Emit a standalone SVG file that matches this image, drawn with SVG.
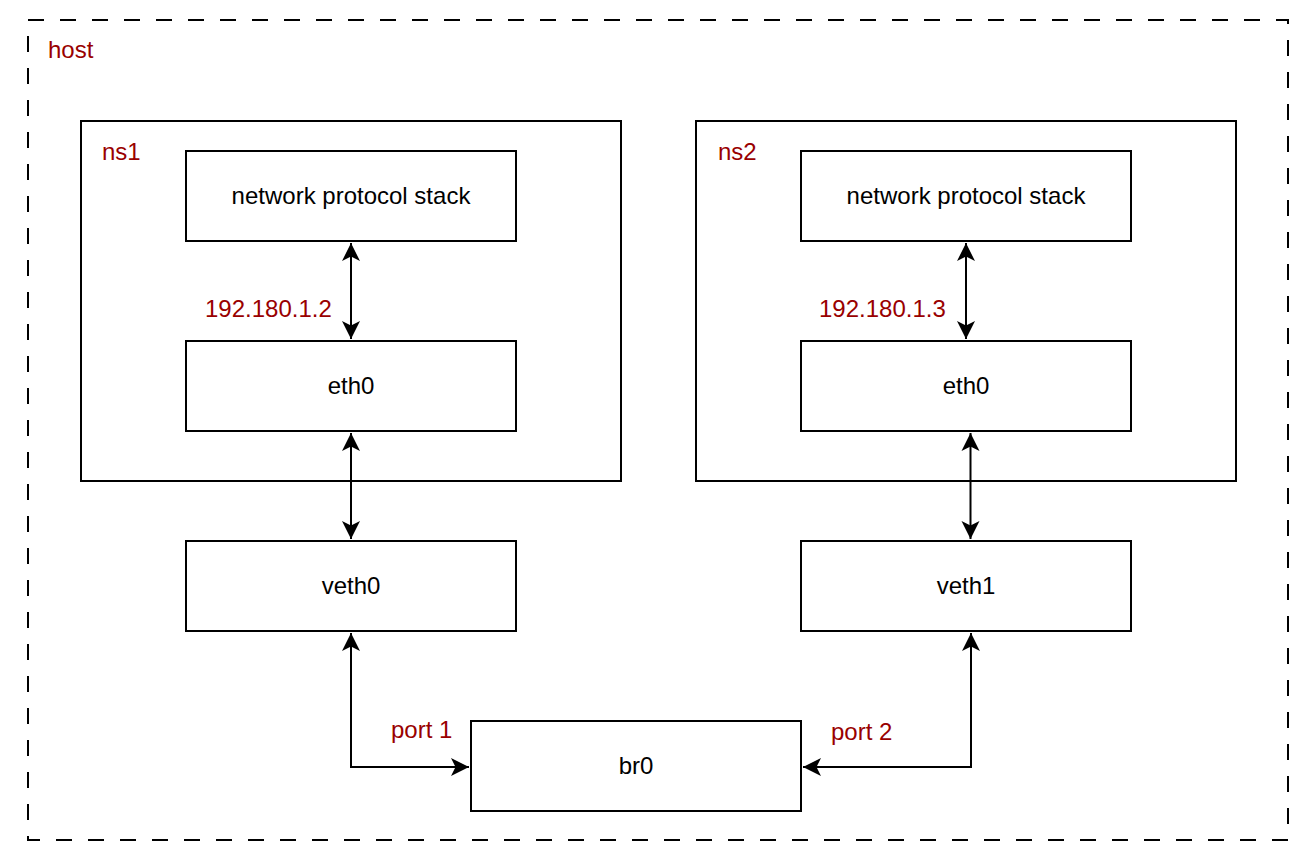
<svg xmlns="http://www.w3.org/2000/svg" width="1310" height="862" viewBox="0 0 1310 862">
  <style>
    .box { fill: #ffffff; stroke: #000000; stroke-width: 2; }
    .host { fill: none; stroke: #000000; stroke-width: 2; stroke-dasharray: 16 16; }
    .lbl { font-family: "Liberation Sans", Arial, Helvetica, sans-serif; font-size: 24px; fill: #000000; }
    .ctr { text-anchor: middle; }
    .red { fill: #990000; }
    .edge { fill: none; stroke: #000000; stroke-width: 2; }
  </style>
  <defs>
    <marker id="arr" markerUnits="userSpaceOnUse" markerWidth="20" markerHeight="20" viewBox="0 0 20 20" refX="18" refY="10" orient="auto-start-reverse">
      <path d="M18,10 L0,1 L4.5,10 L0,19 Z" fill="#000000"/>
    </marker>
  </defs>
  <rect width="1310" height="862" fill="#ffffff"/>

  <g id="host">
    <rect class="host" x="28" y="20" width="1260" height="820"/>
    <text class="lbl red" x="48" y="58">host</text>
  </g>

  <g id="ns1">
    <rect class="box" x="81" y="121" width="540" height="360"/>
    <text class="lbl red" x="102" y="160">ns1</text>
  </g>
  <g id="ns2">
    <rect class="box" x="696" y="121" width="540" height="360"/>
    <text class="lbl red" x="718" y="160">ns2</text>
  </g>

  <g id="stack1">
    <rect class="box" x="186" y="151" width="330" height="90"/>
    <text class="lbl ctr" x="351" y="204">network protocol stack</text>
  </g>
  <g id="eth0-ns1">
    <rect class="box" x="186" y="341" width="330" height="90"/>
    <text class="lbl ctr" x="351" y="394">eth0</text>
  </g>
  <g id="veth0">
    <rect class="box" x="186" y="541" width="330" height="90"/>
    <text class="lbl ctr" x="351" y="594">veth0</text>
  </g>

  <g id="stack2">
    <rect class="box" x="801" y="151" width="330" height="90"/>
    <text class="lbl ctr" x="966" y="204">network protocol stack</text>
  </g>
  <g id="eth0-ns2">
    <rect class="box" x="801" y="341" width="330" height="90"/>
    <text class="lbl ctr" x="966" y="394">eth0</text>
  </g>
  <g id="veth1">
    <rect class="box" x="801" y="541" width="330" height="90"/>
    <text class="lbl ctr" x="966" y="594">veth1</text>
  </g>

  <g id="br0">
    <rect class="box" x="471" y="721" width="330" height="90"/>
    <text class="lbl ctr" x="636" y="774">br0</text>
  </g>

  <g id="connectors">
    <path class="edge" d="M351,243 L351,339" marker-start="url(#arr)" marker-end="url(#arr)"/>
    <path class="edge" d="M351,433 L351,539" marker-start="url(#arr)" marker-end="url(#arr)"/>
    <path class="edge" d="M351,633 L351,767 L469,767" marker-start="url(#arr)" marker-end="url(#arr)"/>
    <path class="edge" d="M966,243 L966,339" marker-start="url(#arr)" marker-end="url(#arr)"/>
    <path class="edge" d="M970.5,433 L970.5,539" marker-start="url(#arr)" marker-end="url(#arr)"/>
    <path class="edge" d="M971,633 L971,767 L803,767" marker-start="url(#arr)" marker-end="url(#arr)"/>
  </g>

  <g id="labels">
    <text class="lbl red" x="205" y="317">192.180.1.2</text>
    <text class="lbl red" x="819" y="317">192.180.1.3</text>
    <text class="lbl red" x="391" y="738">port 1</text>
    <text class="lbl red" x="831" y="740">port 2</text>
  </g>
</svg>
